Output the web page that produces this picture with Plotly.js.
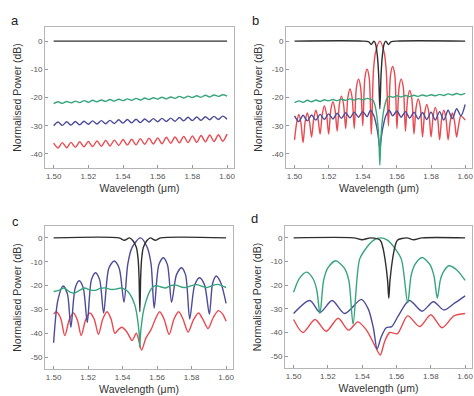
<!DOCTYPE html>
<html>
<head>
<meta charset="utf-8">
<script src="https://cdn.plot.ly/plotly-3.0.1.min.js"></script>
<style>html,body{margin:0;padding:0;background:#fff;}#chart{width:474px;height:396px;}</style>
</head>
<body>
<div id="chart"></div>
<script>
// ---------- Panel a ----------
const xA = [1.5,1.5025,1.505,1.5075,1.51,1.5125,1.515,1.5175,1.52,1.5225,1.525,1.5275,1.53,1.5325,1.535,1.5375,1.54,1.5425,1.545,1.5475,1.55,1.5525,1.555,1.5575,1.56,1.5625,1.565,1.5675,1.57,1.5725,1.575,1.5775,1.58,1.5825,1.585,1.5875,1.59,1.5925,1.595,1.5975,1.6];
const redA = [-36.2,-37.9,-36.0,-37.8,-35.9,-37.7,-35.7,-37.5,-35.6,-37.4,-35.4,-37.3,-35.2,-37.2,-35.1,-37.0,-34.9,-36.9,-34.8,-36.8,-34.6,-36.6,-34.4,-36.5,-34.3,-36.4,-34.1,-36.2,-34.0,-36.1,-33.8,-36.0,-33.6,-35.9,-33.5,-35.7,-33.3,-35.6,-33.2,-35.5,-33.0];
const blueA = [-30.0,-28.7,-29.9,-28.6,-29.8,-28.5,-29.7,-28.4,-29.5,-28.3,-29.4,-28.2,-29.3,-28.1,-29.2,-27.9,-29.1,-27.8,-29.0,-27.7,-28.9,-27.6,-28.7,-27.5,-28.6,-27.4,-28.5,-27.3,-28.4,-27.1,-28.3,-27.0,-28.2,-26.9,-28.1,-26.8,-27.9,-26.7,-27.8,-26.6,-27.7];
const greenA = [-22.2,-21.5,-22.1,-21.4,-21.9,-21.3,-21.8,-21.1,-21.7,-21.0,-21.5,-20.9,-21.4,-20.7,-21.3,-20.6,-21.1,-20.5,-21.0,-20.3,-20.9,-20.2,-20.7,-20.1,-20.6,-19.9,-20.5,-19.8,-20.3,-19.6,-20.2,-19.5,-20.0,-19.4,-19.9,-19.2,-19.8,-19.1,-19.6,-19.0,-19.5];
const xBlackA = [1.5,1.6];
const blackA = [0,0];

// ---------- Panel b ----------
const xRedB = [1.5,1.50125,1.5025,1.50375,1.505,1.50625,1.5075,1.50875,1.51,1.51125,1.5125,1.51375,1.515,1.51625,1.5175,1.51875,1.52,1.52125,1.5225,1.52375,1.525,1.52625,1.5275,1.52875,1.53,1.53125,1.5325,1.53375,1.535,1.53625,1.5375,1.53875,1.54,1.54125,1.5425,1.54375,1.545,1.54625,1.5475,1.55,1.5525,1.55375,1.555,1.55625,1.5575,1.55875,1.56,1.56125,1.5625,1.56375,1.565,1.56625,1.5675,1.56875,1.57,1.57125,1.5725,1.57375,1.575,1.57625,1.5775,1.57875,1.58,1.58125,1.5825,1.58375,1.585,1.58625,1.5875,1.58875,1.59,1.59125,1.5925,1.59375,1.595,1.59625,1.5975,1.6];
const redB = [-35,-29,-26,-29,-36,-28.5,-25.5,-28.5,-34,-27.5,-24.5,-27.5,-33,-26,-23,-26,-33,-24.5,-21.5,-24.5,-32,-22.5,-19.5,-22.5,-31,-20,-17,-20,-31,-16.5,-13.5,-16.5,-30,-13,-10,-13,-33,-10.5,-3.9,0,-3.9,-10.5,-30,-12,-9,-12,-31,-16.5,-13.5,-16.5,-32,-20.5,-17.5,-20.5,-33,-23.5,-20.5,-23.5,-34,-25.5,-22.5,-25.5,-34,-26.5,-23.5,-26.5,-35,-27.5,-24.5,-27.5,-35,-28.5,-25.5,-28.5,-34,-29.5,-26.5,-28];
const xBlueB = [1.5,1.5025,1.505,1.5075,1.51,1.5125,1.515,1.5175,1.52,1.5225,1.525,1.5275,1.53,1.5325,1.535,1.5375,1.54,1.5425,1.5445,1.5465,1.548,1.549,1.55,1.551,1.552,1.5535,1.5555,1.5575,1.56,1.5625,1.565,1.5675,1.57,1.5725,1.575,1.5775,1.58,1.5825,1.585,1.5875,1.59,1.5925,1.595,1.5975,1.6];
const blueB = [-26.5,-28.5,-26.3,-28.3,-26.2,-28.0,-26.0,-27.8,-25.8,-27.6,-25.6,-27.4,-25.4,-27.2,-25.2,-27.0,-25.0,-26.8,-24.5,-26.5,-30,-33.5,-38,-33.5,-30,-26.5,-24.5,-26.5,-24.8,-27,-25,-27.3,-25.2,-27.6,-25.3,-27.8,-25.2,-28,-25,-28,-24.5,-27.5,-24,-26.5,-22.5];
const xGreenB = [1.5,1.5025,1.505,1.5075,1.51,1.5125,1.515,1.5175,1.52,1.5225,1.525,1.5275,1.53,1.5325,1.535,1.5375,1.54,1.5425,1.5445,1.546,1.547,1.548,1.549,1.5495,1.55,1.5505,1.551,1.552,1.553,1.554,1.5555,1.5575,1.56,1.5625,1.565,1.5675,1.57,1.5725,1.575,1.5775,1.58,1.5825,1.585,1.5875,1.59,1.5925,1.595,1.5975,1.6];
const greenB = [-21.8,-21.2,-21.7,-21.0,-21.5,-20.9,-21.4,-20.8,-21.2,-20.7,-21.1,-20.6,-21.0,-20.5,-20.9,-20.4,-20.8,-20.3,-20.6,-21.0,-22.5,-25.5,-31,-36,-44,-36,-31,-25.5,-22.5,-20.5,-19.5,-19.9,-19.4,-19.8,-19.3,-19.7,-19.2,-19.6,-19.1,-19.5,-19.0,-19.4,-18.9,-19.3,-18.7,-19.1,-18.6,-19.0,-18.5];
const xBlackB = [1.5,1.54,1.5435,1.545,1.5465,1.5475,1.5485,1.5493,1.55,1.5507,1.5515,1.5525,1.5535,1.555,1.5565,1.56,1.6];
const blackB = [0,0,-0.3,-1.2,0,-1,-5,-12,-24,-12,-5,-1,0,-1.2,-0.3,0,0];

// ---------- Panel c ----------
const xBlackC = [1.5,1.538,1.541,1.544,1.546,1.548,1.549,1.5495,1.55,1.5505,1.551,1.552,1.554,1.556,1.559,1.562,1.6];
const blackC = [0,0,-1,0,-1.2,-4,-9,-16,-31,-16,-9,-4,-1.2,0,-1,0,0];
const xBlueC = [1.5,1.5025,1.5055,1.508,1.51,1.5125,1.5148,1.5172,1.5195,1.5219,1.5243,1.5267,1.529,1.532,1.5351,1.538,1.5408,1.543,1.5455,1.5503,1.5543,1.5565,1.5583,1.561,1.5636,1.566,1.5684,1.5712,1.5741,1.5765,1.5789,1.5818,1.5846,1.5875,1.5903,1.5922,1.5943,1.597,1.6];
const blueC = [-44,-26,-20.2,-23.5,-37.5,-21,-18,-21,-35.5,-17.6,-14.6,-17.6,-31.5,-12.7,-9.7,-12.7,-27,-11,-4,0,-4,-11,-29.5,-11.3,-8.3,-11.3,-27,-15.5,-12.5,-15.5,-34,-19.7,-16.7,-19.7,-32,-19,-16,-19,-27.5];
const xRedC = [1.5,1.5015,1.504,1.5065,1.509,1.5115,1.5138,1.516,1.5185,1.521,1.5235,1.526,1.5285,1.531,1.5333,1.5355,1.5375,1.5395,1.5425,1.5455,1.548,1.551,1.5535,1.5565,1.559,1.5615,1.564,1.567,1.5698,1.5725,1.575,1.578,1.581,1.584,1.5868,1.5895,1.5925,1.5955,1.598,1.6];
const redC = [-32,-31,-33.5,-41,-34.5,-31.5,-34.5,-41,-34.5,-31.5,-34,-40.5,-34,-31,-34,-40,-38.5,-37.5,-39.5,-43,-40,-47,-42,-38.5,-34,-31,-34,-40.5,-34,-31,-34,-39.5,-34.5,-31.5,-34.5,-38,-33.5,-30.5,-32,-35];
const xGreenC = [1.5,1.503,1.506,1.509,1.512,1.515,1.518,1.521,1.524,1.527,1.53,1.533,1.536,1.539,1.541,1.543,1.545,1.547,1.548,1.549,1.5497,1.55,1.5503,1.551,1.552,1.553,1.555,1.557,1.559,1.562,1.565,1.568,1.571,1.574,1.577,1.58,1.583,1.586,1.589,1.592,1.595,1.598,1.6];
const greenC = [-22.5,-22,-21,-22.5,-23.2,-22,-21,-21.8,-22,-21.2,-21,-21.6,-21.5,-21,-21.5,-22.5,-24.5,-28,-31,-36,-41,-46,-41,-36,-31,-28,-23.5,-21,-20,-20.5,-21,-20,-19.8,-20.6,-20.8,-20,-19.6,-20.3,-20.8,-20,-19.5,-20.2,-20.8];

// ---------- Panel d ----------
const xBlackD = [1.5,1.535,1.54,1.545,1.5505,1.552,1.5535,1.5548,1.5555,1.5562,1.5575,1.559,1.5605,1.566,1.57,1.575,1.6];
const blackD = [0,0,-0.8,0,-1,-4,-10,-18,-25.5,-18,-10,-4,-1,0,-0.8,0,0];
const xGreenD = [1.5,1.5035,1.5077,1.5115,1.5135,1.5154,1.5175,1.52,1.5245,1.5295,1.5322,1.5347,1.5385,1.5427,1.5467,1.5507,1.5547,1.5586,1.5628,1.5665,1.5685,1.5707,1.5749,1.5795,1.5818,1.5838,1.5855,1.587,1.5905,1.595,1.6];
const greenD = [-23,-17,-14.5,-17.5,-22,-32,-18,-12.7,-9.7,-12.7,-18,-36.5,-9,-4,-1,0,-1,-4,-9,-27.5,-16,-11.3,-8.3,-11.3,-16,-25.5,-18,-14.8,-11.8,-13.5,-18];
const xBlueD = [1.5,1.5095,1.5154,1.5225,1.5298,1.5395,1.5435,1.5465,1.5487,1.551,1.554,1.5572,1.561,1.5675,1.5749,1.5815,1.5877,1.594,1.6];
const blueD = [-32,-26.5,-31.5,-26.5,-32,-26,-30,-38,-47,-42,-38,-37.5,-33,-26.5,-31,-27,-30.5,-27.5,-24.5];
const xRedD = [1.5,1.5055,1.5125,1.519,1.526,1.532,1.5375,1.5425,1.547,1.5505,1.553,1.556,1.5605,1.5665,1.5735,1.58,1.5865,1.5935,1.6];
const redD = [-34.5,-40,-34.5,-39.5,-34,-39,-35.5,-39,-45,-49.5,-44,-40,-40.5,-33,-37.5,-32.5,-38,-33,-32];

// ---------- Ticks / labels ----------
const xTickVals = [1.50,1.52,1.54,1.56,1.58,1.60];
const xTickText = ['1.50','1.52','1.54','1.56','1.58','1.60'];
const yTickValsTop = [0,-10,-20,-30,-40];
const yTickTextTop = ['0','-10','-20','-30','-40'];
const yTickValsBot = [0,-10,-20,-30,-40,-50];
const yTickTextBot = ['0','-10','-20','-30','-40','-50'];
const panelLabels = ['a','b','c','d'];
const xTitle = 'Wavelength (μm)';
const yTitle = 'Normalised Power (dB)';

const COL = {black:'#2e2e2e', green:'#36a57c', blue:'#4d4c98', red:'#e9494f'};
const FONT = 'Liberation Sans, Arial, sans-serif';

function tr(x, y, color, ax) {
  return {x:x, y:y, type:'scatter', mode:'lines', xaxis:'x'+ax, yaxis:'y'+ax,
          line:{color:color, width:1.4, shape:'spline', smoothing:0.8},
          showlegend:false, hoverinfo:'skip'};
}

const data = [
  tr(xA, redA, COL.red, ''), tr(xA, blueA, COL.blue, ''), tr(xA, greenA, COL.green, ''), tr(xBlackA, blackA, COL.black, ''),
  tr(xRedB, redB, COL.red, '2'), tr(xBlueB, blueB, COL.blue, '2'), tr(xGreenB, greenB, COL.green, '2'), tr(xBlackB, blackB, COL.black, '2'),
  tr(xRedC, redC, COL.red, '3'), tr(xBlueC, blueC, COL.blue, '3'), tr(xGreenC, greenC, COL.green, '3'), tr(xBlackC, blackC, COL.black, '3'),
  tr(xRedD, redD, COL.red, '4'), tr(xBlueD, blueD, COL.blue, '4'), tr(xGreenD, greenD, COL.green, '4'), tr(xBlackD, blackD, COL.black, '4')
];

const W = 474, H = 396;
function px(a, b) { return [a / W, b / W]; }
function py(top, bottom) { return [1 - bottom / H, 1 - top / H]; }

function xAx(domain, anchor) {
  return {domain:domain, anchor:anchor, range:[1.495,1.604], tickmode:'array', tickvals:xTickVals, ticktext:xTickText,
    showline:true, mirror:true, linecolor:'#b5b5b5', linewidth:1, ticks:'inside', ticklen:3, tickcolor:'#999',
    showgrid:false, zeroline:false, tickfont:{family:FONT, size:8, color:'#555'},
    title:{text:xTitle, font:{family:FONT, size:10.5, color:'#333'}, standoff:5}};
}
function yAx(domain, anchor, range, vals, text) {
  return {domain:domain, anchor:anchor, range:range, tickmode:'array', tickvals:vals, ticktext:text,
    showline:true, mirror:true, linecolor:'#b5b5b5', linewidth:1, ticks:'inside', ticklen:3, tickcolor:'#999',
    showgrid:false, zeroline:false, tickfont:{family:FONT, size:8, color:'#555'},
    title:{text:yTitle, font:{family:FONT, size:10.5, color:'#333'}, standoff:7}};
}

const layout = {
  width:W, height:H, margin:{l:0, r:0, t:0, b:0},
  paper_bgcolor:'#fff', plot_bgcolor:'#fff', showlegend:false,
  xaxis:  xAx(px(45,234), 'y'),
  yaxis:  yAx(py(27,168), 'x', [-45,5], yTickValsTop, yTickTextTop),
  xaxis2: xAx(px(286,472), 'y2'),
  yaxis2: yAx(py(27,168), 'x2', [-45,5], yTickValsTop, yTickTextTop),
  xaxis3: xAx(px(45,233), 'y3'),
  yaxis3: yAx(py(226,369), 'x3', [-55,5], yTickValsBot, yTickTextBot),
  xaxis4: xAx(px(285,472), 'y4'),
  yaxis4: yAx(py(226,368), 'x4', [-55,5], yTickValsBot, yTickTextBot),
  annotations: [
    {text:panelLabels[0], x:15/W, y:1-21/H},
    {text:panelLabels[1], x:255/W, y:1-21/H},
    {text:panelLabels[2], x:15/W, y:1-221/H},
    {text:panelLabels[3], x:254/W, y:1-219/H}
  ].map(a => Object.assign(a, {xref:'paper', yref:'paper', showarrow:false, xanchor:'center', yanchor:'middle',
      font:{family:FONT, size:13, color:'#222'}}))
};

Plotly.newPlot('chart', data, layout, {displayModeBar:false, staticPlot:true});
</script>
</body>
</html>
